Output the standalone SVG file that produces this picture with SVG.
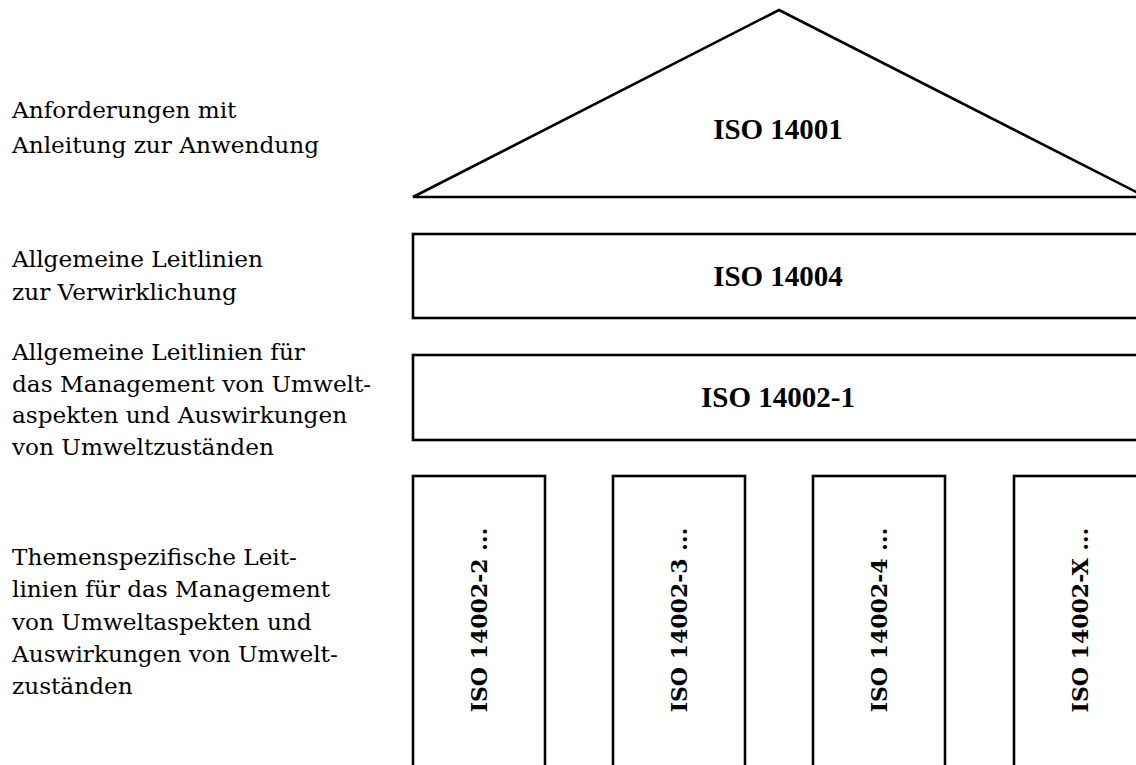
<svg xmlns="http://www.w3.org/2000/svg" width="1136" height="765" viewBox="0 0 1136 765">
<style>
.shape{fill:#fff;stroke:#000;stroke-width:2.6}
.lbl{font-family:"DejaVu Serif","Liberation Serif",serif;font-size:23.2px;fill:#000}
.hd{font-family:"Liberation Serif",serif;font-weight:bold;font-size:29px;fill:#000;text-anchor:middle}
.col{font-family:"DejaVu Serif","Liberation Serif",serif;font-weight:bold;font-size:22px;fill:#000;text-anchor:middle}
</style>
<rect width="1136" height="765" fill="#fff"/>
<g id="labels">
<text class="lbl" x="12" y="118">Anforderungen mit</text>
<text class="lbl" x="12" y="153">Anleitung zur Anwendung</text>
<text class="lbl" x="12" y="267">Allgemeine Leitlinien</text>
<text class="lbl" x="12" y="300">zur Verwirklichung</text>
<text class="lbl" x="12" y="360">Allgemeine Leitlinien für</text>
<text class="lbl" x="12" y="392">das Management von Umwelt-</text>
<text class="lbl" x="12" y="423">aspekten und Auswirkungen</text>
<text class="lbl" x="12" y="455">von Umweltzuständen</text>
<text class="lbl" x="12" y="565">Themenspezifische Leit-</text>
<text class="lbl" x="12" y="597">linien für das Management</text>
<text class="lbl" x="12" y="630">von Umweltaspekten und</text>
<text class="lbl" x="12" y="662">Auswirkungen von Umwelt-</text>
<text class="lbl" x="12" y="694">zuständen</text>
</g>
<g id="iso14001">
<polygon class="shape" points="779,10 1146,197 413,197"/>
<text class="hd" x="778" y="139">ISO 14001</text>
</g>
<g id="iso14004">
<rect class="shape" x="413" y="234" width="740" height="84"/>
<text class="hd" x="778" y="286">ISO 14004</text>
</g>
<g id="iso14002-1">
<rect class="shape" x="413" y="355" width="740" height="85"/>
<text class="hd" x="778" y="407">ISO 14002-1</text>
</g>
<g id="iso14002-2">
<rect class="shape" x="413" y="476" width="132" height="300"/>
<text class="col" transform="translate(487,620) rotate(-90)">ISO 14002-2 ...</text>
</g>
<g id="iso14002-3">
<rect class="shape" x="613" y="476" width="132" height="300"/>
<text class="col" transform="translate(687,620) rotate(-90)">ISO 14002-3 ...</text>
</g>
<g id="iso14002-4">
<rect class="shape" x="813" y="476" width="132" height="300"/>
<text class="col" transform="translate(887,620) rotate(-90)">ISO 14002-4 ...</text>
</g>
<g id="iso14002-x">
<rect class="shape" x="1014" y="476" width="132" height="300"/>
<text class="col" transform="translate(1088,620) rotate(-90)">ISO 14002-X ...</text>
</g>
<g id="connectors"/>
</svg>
